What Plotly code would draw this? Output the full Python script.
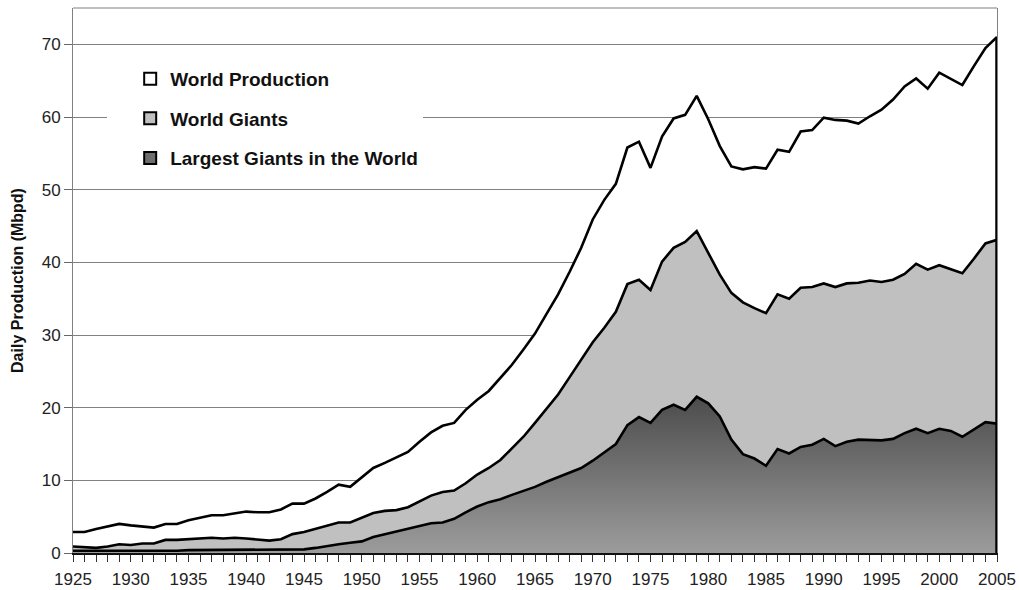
import plotly.graph_objects as go

years = list(range(1925, 2006))

world_production = [
    2.9, 2.9, 3.3, 3.6, 4.0, 3.8, 3.6, 3.5, 4.0, 4.0,
    4.5, 4.9, 5.2, 5.2, 5.5, 5.7, 5.6, 5.6, 6.0, 6.8,
    6.8, 7.5, 8.4, 9.4, 9.1, 10.4, 11.7, 12.4, 13.1, 13.9,
    15.3, 16.6, 17.5, 17.9, 19.7, 21.1, 22.3, 24.1, 25.9, 28.0,
    30.2, 32.9, 35.6, 38.7, 42.0, 45.9, 48.6, 50.8, 55.8, 56.6,
    53.0, 57.3, 59.8, 60.3, 62.9, 59.7, 56.0, 53.2, 52.8, 53.1,
    52.9, 55.5, 55.2, 58.0, 58.2, 59.9, 59.6, 59.5, 59.1, 60.1,
    61.0, 62.4, 64.2, 65.3, 63.9, 66.1, 65.3, 64.4, 67.0, 69.5,
    71.0,
]

world_giants = [
    0.9, 0.8, 0.7, 0.9, 1.2, 1.1, 1.3, 1.3, 1.8, 1.8,
    1.9, 1.9, 2.1, 2.0, 2.1, 2.0, 1.9, 1.7, 1.9, 2.6,
    2.9, 3.3, 3.8, 4.2, 4.2, 4.8, 5.5, 5.8, 5.9, 6.3,
    7.1, 7.9, 8.4, 8.6, 9.6, 10.8, 11.7, 12.8, 14.4, 16.0,
    17.9, 19.8, 21.8, 24.2, 26.6, 29.0, 31.0, 33.2, 37.0, 37.6,
    36.2, 40.1, 42.0, 42.8, 44.3, 41.3, 38.3, 35.8, 34.5, 33.7,
    33.0, 35.6, 35.0, 36.5, 36.6, 37.1, 36.6, 37.1, 37.2, 37.5,
    37.3, 37.6, 38.4, 39.8, 39.0, 39.6, 39.1, 38.5, 40.5, 42.6,
    43.1,
]

largest_giants = [
    0.3, 0.3, 0.2, 0.3, 0.3, 0.3, 0.3, 0.3, 0.3, 0.3,
    0.4, 0.4, 0.4, 0.5, 0.5, 0.5, 0.5, 0.4, 0.4, 0.4,
    0.5, 0.7, 1.0, 1.2, 1.4, 1.6, 2.2, 2.6, 2.9, 3.3,
    3.8, 4.1, 4.2, 4.7, 5.6, 6.4, 7.0, 7.4, 8.0, 8.5,
    9.1, 9.8, 10.4, 11.1, 11.7, 12.7, 13.9, 15.0, 17.6, 18.7,
    17.9, 19.7, 20.4, 19.7, 21.5, 20.6, 18.8, 15.6, 13.6, 13.0,
    12.0, 14.3, 13.7, 14.6, 14.9, 15.7, 14.7, 15.3, 15.6, 15.5,
    15.5, 15.7, 16.5, 17.1, 16.5, 17.1, 16.8, 16.0, 17.0, 18.0,
    17.8,
]

series_names = ["World Production", "World Giants", "Largest Giants in the World"]
legend_colors = ["#ffffff", "#c0c0c0", "#6e6e6e"]

font_family = "Liberation Sans, Arial, sans-serif"
line_style = dict(color="black", width=2.6)

fig = go.Figure()

fig.add_trace(go.Scatter(
    x=years, y=largest_giants, mode="lines", line=line_style,
    fill="tozeroy",
    fillgradient=dict(type="vertical", start=0, stop=22,
                      colorscale=[[0, "#9c9c9c"], [1, "#4a4a4a"]]),
    showlegend=False, hoverinfo="skip",
))
fig.add_trace(go.Scatter(
    x=years, y=world_giants, mode="lines", line=line_style,
    fill="tonexty", fillcolor="#c0c0c0",
    showlegend=False, hoverinfo="skip",
))
fig.add_trace(go.Scatter(
    x=years, y=world_production, mode="lines", line=line_style,
    fill="tonexty", fillcolor="#ffffff",
    showlegend=False, hoverinfo="skip",
))
# right edge outline of the stacked areas
fig.add_trace(go.Scatter(
    x=[years[-1], years[-1]], y=[0, world_production[-1]], mode="lines",
    line=dict(color="black", width=3.5), showlegend=False, hoverinfo="skip",
))

for i, (name, col) in enumerate(zip(series_names, legend_colors)):
    fig.add_trace(go.Scatter(
        x=[None], y=[None], mode="markers", name=name,
        marker=dict(symbol="square", size=16, color=col,
                    line=dict(color="black", width=2.5)),
        legendgroup=f"g{i}",
    ))

fig.update_layout(
    width=1019, height=590,
    margin=dict(l=73, r=22, t=8, b=37),
    paper_bgcolor="white", plot_bgcolor="white",
    font=dict(family=font_family, size=17, color="#222222"),
    showlegend=True,
    legend=dict(
        x=0.037, y=0.905, xanchor="left", yanchor="top",
        bgcolor="white", borderwidth=0,
        font=dict(family=font_family, size=19, color="#111111", weight="bold"),
        tracegroupgap=12, itemsizing="constant", itemwidth=30,
        indentation=23,
        entrywidth=400, entrywidthmode="pixels",
    ),
    xaxis=dict(
        range=[1925, 2005], tick0=1925, dtick=5,
        ticks="outside", ticklen=7, tickcolor="#333333", tickwidth=1,
        minor=dict(dtick=1, ticks="outside", ticklen=7, tickcolor="#333333"),
        showline=True, linecolor="#111111", linewidth=1.5,
        showgrid=False, zeroline=False, automargin=False,
        ticklabelstandoff=3,
        tickfont=dict(size=17, color="#222222"),
    ),
    yaxis=dict(
        range=[0, 75], tick0=0, dtick=10,
        ticks="outside", ticklen=8, tickcolor="#666666",
        showline=True, linecolor="#808080", linewidth=1, mirror=True,
        showgrid=True, gridcolor="#808080", gridwidth=1,
        zeroline=False, automargin=False,
        tickfont=dict(size=17, color="#222222"),
        title=dict(text="<b>Daily Production (Mbpd)</b>",
                   font=dict(size=16, color="#111111"), standoff=14),
    ),
    shapes=[dict(type="line", xref="paper", yref="paper", x0=0, x1=1, y0=1, y1=1,
                 line=dict(color="#808080", width=1))],
)

fig.write_html(
    "out.html",
    config={"displayModeBar": False},
    post_script="document.body.style.margin='0';document.body.style.overflow='hidden';",
)
